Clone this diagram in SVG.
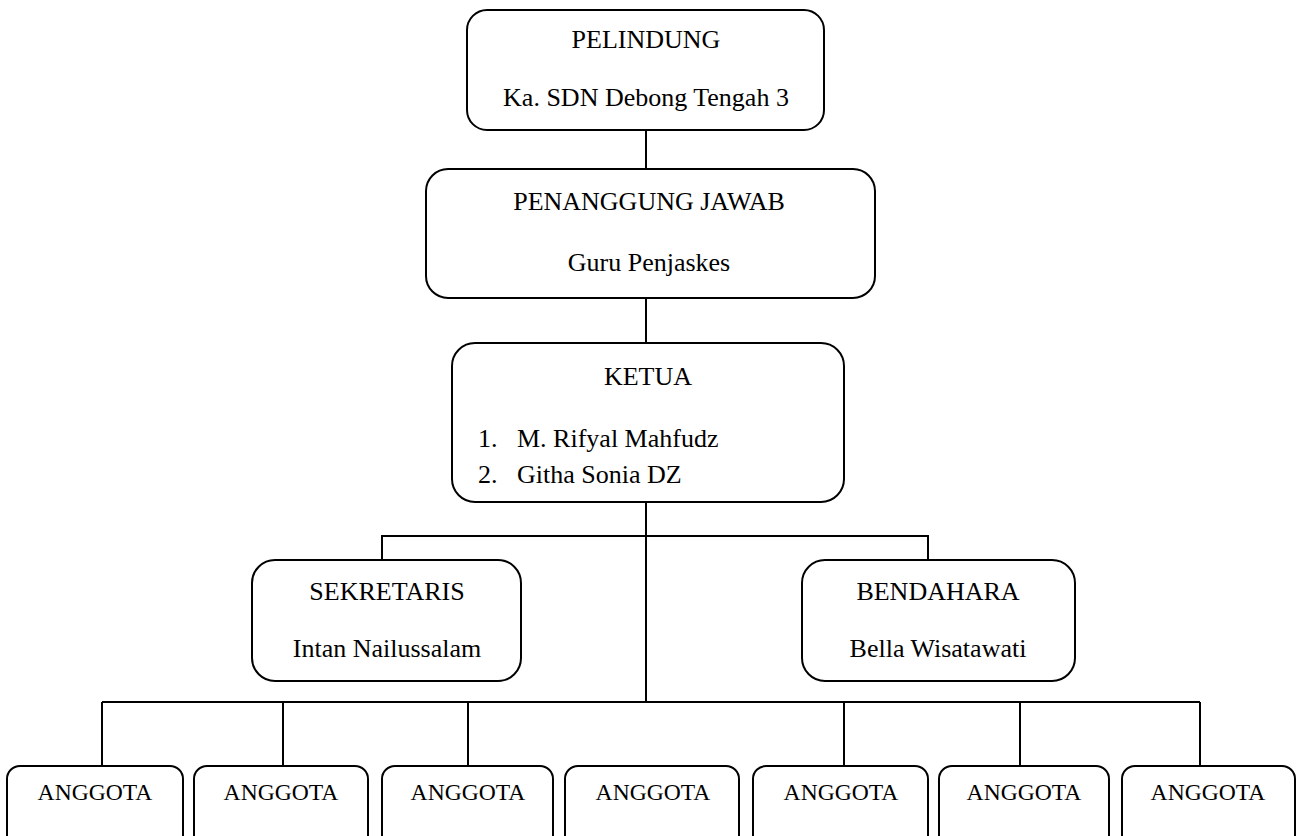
<svg xmlns="http://www.w3.org/2000/svg" width="1301" height="836" viewBox="0 0 1301 836">
  <style>
    .box { fill: #ffffff; stroke: #000000; stroke-width: 2; }
    .link { fill: none; stroke: #000000; stroke-width: 2; }
    .t { font-family: "Liberation Serif", "Times New Roman", serif; font-size: 26px; fill: #000000; }
    .c { text-anchor: middle; }
    .s { font-size: 23.6px; }
  </style>
  <rect width="1301" height="836" fill="#ffffff"/>

  <!-- connectors -->
  <g id="connectors">
    <line class="link" x1="646" y1="130" x2="646" y2="169"/>
    <line class="link" x1="646" y1="298" x2="646" y2="343"/>
    <line class="link" x1="646" y1="502" x2="646" y2="702"/>
    <polyline class="link" points="382,560 382,536 928,536 928,560"/>
    <line class="link" x1="102" y1="702" x2="1200" y2="702"/>
    <line class="link" x1="102" y1="702" x2="102" y2="766"/>
    <line class="link" x1="283" y1="702" x2="283" y2="766"/>
    <line class="link" x1="468" y1="702" x2="468" y2="766"/>
    <line class="link" x1="844" y1="702" x2="844" y2="766"/>
    <line class="link" x1="1020" y1="702" x2="1020" y2="766"/>
    <line class="link" x1="1200" y1="702" x2="1200" y2="766"/>
  </g>

  <g id="pelindung">
    <rect class="box" x="467" y="10" width="357" height="120" rx="20"/>
    <text class="t c" x="646" y="48">PELINDUNG</text>
    <text class="t c" x="646" y="106">Ka. SDN Debong Tengah 3</text>
  </g>

  <g id="penanggung-jawab">
    <rect class="box" x="426" y="169" width="449" height="129" rx="22"/>
    <text class="t c" x="649" y="210">PENANGGUNG JAWAB</text>
    <text class="t c" x="649" y="271">Guru Penjaskes</text>
  </g>

  <g id="ketua">
    <rect class="box" x="452" y="343" width="392" height="159" rx="23"/>
    <text class="t c" x="648" y="385">KETUA</text>
    <text class="t" x="478" y="447">1.</text>
    <text class="t" x="517" y="447">M. Rifyal Mahfudz</text>
    <text class="t" x="478" y="483">2.</text>
    <text class="t" x="517" y="483">Githa Sonia DZ</text>
  </g>

  <g id="sekretaris">
    <rect class="box" x="252" y="560" width="269" height="121" rx="23"/>
    <text class="t c" x="387" y="600">SEKRETARIS</text>
    <text class="t c" x="387" y="657">Intan Nailussalam</text>
  </g>

  <g id="bendahara">
    <rect class="box" x="802" y="560" width="273" height="121" rx="23"/>
    <text class="t c" x="938" y="600">BENDAHARA</text>
    <text class="t c" x="938" y="657">Bella Wisatawati</text>
  </g>

  <g id="anggota-1">
    <rect class="box" x="7" y="766" width="176" height="90" rx="13"/>
    <text class="t s c" x="95" y="800">ANGGOTA</text>
  </g>
  <g id="anggota-2">
    <rect class="box" x="194" y="766" width="174" height="90" rx="13"/>
    <text class="t s c" x="281" y="800">ANGGOTA</text>
  </g>
  <g id="anggota-3">
    <rect class="box" x="382" y="766" width="171" height="90" rx="13"/>
    <text class="t s c" x="468" y="800">ANGGOTA</text>
  </g>
  <g id="anggota-4">
    <rect class="box" x="565" y="766" width="174" height="90" rx="13"/>
    <text class="t s c" x="653" y="800">ANGGOTA</text>
  </g>
  <g id="anggota-5">
    <rect class="box" x="753" y="766" width="175" height="90" rx="13"/>
    <text class="t s c" x="841" y="800">ANGGOTA</text>
  </g>
  <g id="anggota-6">
    <rect class="box" x="939" y="766" width="170" height="90" rx="13"/>
    <text class="t s c" x="1024" y="800">ANGGOTA</text>
  </g>
  <g id="anggota-7">
    <rect class="box" x="1122" y="766" width="173" height="90" rx="13"/>
    <text class="t s c" x="1208" y="800">ANGGOTA</text>
  </g>
</svg>
